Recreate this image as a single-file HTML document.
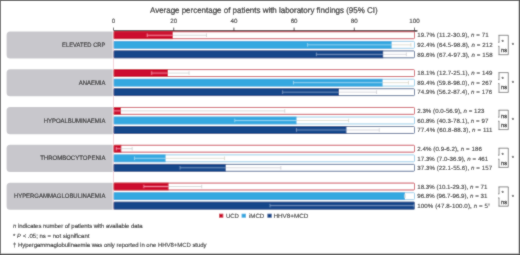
<!DOCTYPE html><html><head><meta charset="utf-8"><style>html,body{margin:0;padding:0;background:#fff;}svg{display:block;will-change:transform;}text{font-family:"Liberation Sans",sans-serif;text-rendering:geometricPrecision;stroke:#262626;stroke-width:0.1px;}</style></head><body>
<svg width="520" height="255" viewBox="0 0 520 255">
<defs><filter id="soft" x="0" y="0" width="1" height="1" filterUnits="objectBoundingBox"><feConvolveMatrix order="3" kernelMatrix="0.03 0.08 0.03 0.08 0.56 0.08 0.03 0.08 0.03" edgeMode="duplicate" preserveAlpha="false"/></filter></defs>
<g filter="url(#soft)">
<rect x="0" y="0" width="520" height="255" fill="#fff"/>
<text x="150.0" y="13" font-size="8.3" fill="#262626" textLength="227.6" lengthAdjust="spacingAndGlyphs" style="stroke-width:0.2px">Average percentage of patients with laboratory findings (95% CI)</text>
<line x1="113.5" y1="30.9" x2="417.4" y2="30.9" stroke="#4a3439" stroke-width="1.6"/>
<line x1="113.50" y1="27.6" x2="113.50" y2="30.5" stroke="#2a2a2a" stroke-width="0.8"/>
<text x="113.50" y="23.4" font-size="6.2" fill="#262626" text-anchor="middle">0</text>
<line x1="173.70" y1="27.6" x2="173.70" y2="30.5" stroke="#2a2a2a" stroke-width="0.8"/>
<text x="173.70" y="23.4" font-size="6.2" fill="#262626" text-anchor="middle">20</text>
<line x1="233.90" y1="27.6" x2="233.90" y2="30.5" stroke="#2a2a2a" stroke-width="0.8"/>
<text x="233.90" y="23.4" font-size="6.2" fill="#262626" text-anchor="middle">40</text>
<line x1="294.10" y1="27.6" x2="294.10" y2="30.5" stroke="#2a2a2a" stroke-width="0.8"/>
<text x="294.10" y="23.4" font-size="6.2" fill="#262626" text-anchor="middle">60</text>
<line x1="354.30" y1="27.6" x2="354.30" y2="30.5" stroke="#2a2a2a" stroke-width="0.8"/>
<text x="354.30" y="23.4" font-size="6.2" fill="#262626" text-anchor="middle">80</text>
<line x1="414.50" y1="27.6" x2="414.50" y2="30.5" stroke="#2a2a2a" stroke-width="0.8"/>
<text x="414.50" y="23.4" font-size="6.2" fill="#262626" text-anchor="middle">100</text>
<line x1="113.5" y1="30.5" x2="113.5" y2="210" stroke="#ecc0c8" stroke-width="0.7"/>
<path d="M112.6 31.40 H10.1 a3.5 3.5 0 0 0 -3.5 3.5 V55.00 a3.5 3.5 0 0 0 3.5 3.5 H112.6 Z" fill="#c8c7cc"/>
<text x="62.10" y="46.90" font-size="6.4" fill="#262626" textLength="43.3" lengthAdjust="spacingAndGlyphs" style="stroke-width:0.12px">ELEVATED CRP</text>
<rect x="114.00" y="31.80" width="300.50" height="6.90" fill="#fff" stroke="#c8404f" stroke-width="0.9" rx="0.9"/>
<rect x="113.80" y="31.40" width="59.00" height="7.70" fill="#cc0f2e"/>
<line x1="147.21" y1="35.25" x2="172.80" y2="35.25" stroke="#ff9cb6" stroke-width="0.75"/>
<line x1="172.80" y1="35.25" x2="206.51" y2="35.25" stroke="#c8c8c8" stroke-width="0.65"/>
<line x1="147.21" y1="33.45" x2="147.21" y2="37.05" stroke="#ff9cb6" stroke-width="0.7"/>
<line x1="206.51" y1="33.45" x2="206.51" y2="37.05" stroke="#c8c8c8" stroke-width="0.7"/>
<text x="417.2" y="37.45" font-size="6.15" fill="#262626" textLength="71.39">19.7% (11.2-30.9), <tspan font-style="italic">n</tspan> = 71</text>
<rect x="114.00" y="41.40" width="300.50" height="6.90" fill="#fff" stroke="#92c9e6" stroke-width="0.9" rx="0.9"/>
<rect x="113.80" y="41.00" width="277.82" height="7.70" fill="#35a8e0"/>
<line x1="307.64" y1="44.85" x2="391.62" y2="44.85" stroke="#a8dcf4" stroke-width="0.75"/>
<line x1="391.62" y1="44.85" x2="410.89" y2="44.85" stroke="#d0d0c0" stroke-width="0.65"/>
<line x1="307.64" y1="43.05" x2="307.64" y2="46.65" stroke="#a8dcf4" stroke-width="0.7"/>
<line x1="410.89" y1="43.05" x2="410.89" y2="46.65" stroke="#d0d0c0" stroke-width="0.7"/>
<text x="417.2" y="47.05" font-size="6.15" fill="#262626" textLength="75.45">92.4% (64.5-98.8), <tspan font-style="italic">n</tspan> = 212</text>
<rect x="114.00" y="50.90" width="300.50" height="6.90" fill="#fff" stroke="#4a6490" stroke-width="0.9" rx="0.9"/>
<rect x="113.80" y="50.50" width="269.40" height="7.70" fill="#14468a"/>
<line x1="316.37" y1="54.35" x2="383.20" y2="54.35" stroke="#8aa6cc" stroke-width="0.75"/>
<line x1="383.20" y1="54.35" x2="406.37" y2="54.35" stroke="#c8c8d0" stroke-width="0.65"/>
<line x1="316.37" y1="52.55" x2="316.37" y2="56.15" stroke="#8aa6cc" stroke-width="0.7"/>
<line x1="406.37" y1="52.55" x2="406.37" y2="56.15" stroke="#c8c8d0" stroke-width="0.7"/>
<text x="417.2" y="56.55" font-size="6.15" fill="#262626" textLength="75.45">89.6% (67.4-97.3), <tspan font-style="italic">n</tspan> = 158</text>
<path d="M498.5 35.30 H508.3 V54.70 H498.5" fill="none" stroke="#484848" stroke-width="0.65"/>
<path d="M499.0 35.30 V42.30 M498.0 42.30 H499.3" fill="none" stroke="#484848" stroke-width="0.6"/>
<path d="M499.0 46.30 V54.70 M498.0 46.30 H499.3" fill="none" stroke="#484848" stroke-width="0.6"/>
<text x="502.7" y="43.60" font-size="6" fill="#262626" text-anchor="middle">*</text>
<text x="501.0" y="51.90" font-size="5.7" fill="#262626" letter-spacing="0.15" style="stroke-width:0.3px">ns</text>
<text x="512.8" y="47.40" font-size="6" fill="#262626" text-anchor="middle">*</text>
<path d="M112.6 69.22 H10.1 a3.5 3.5 0 0 0 -3.5 3.5 V92.82 a3.5 3.5 0 0 0 3.5 3.5 H112.6 Z" fill="#c8c7cc"/>
<text x="78.80" y="84.72" font-size="6.4" fill="#262626" textLength="26.6" lengthAdjust="spacingAndGlyphs" style="stroke-width:0.12px">ANAEMIA</text>
<rect x="114.00" y="69.62" width="300.50" height="6.90" fill="#fff" stroke="#c8404f" stroke-width="0.9" rx="0.9"/>
<rect x="113.80" y="69.22" width="54.18" height="7.70" fill="#cc0f2e"/>
<line x1="151.73" y1="73.07" x2="167.98" y2="73.07" stroke="#ff9cb6" stroke-width="0.75"/>
<line x1="167.98" y1="73.07" x2="189.05" y2="73.07" stroke="#c8c8c8" stroke-width="0.65"/>
<line x1="151.73" y1="71.27" x2="151.73" y2="74.87" stroke="#ff9cb6" stroke-width="0.7"/>
<line x1="189.05" y1="71.27" x2="189.05" y2="74.87" stroke="#c8c8c8" stroke-width="0.7"/>
<text x="417.2" y="75.27" font-size="6.15" fill="#262626" textLength="75.15">18.1% (12.7-25.1), <tspan font-style="italic">n</tspan> = 149</text>
<rect x="114.00" y="79.22" width="300.50" height="6.90" fill="#fff" stroke="#92c9e6" stroke-width="0.9" rx="0.9"/>
<rect x="113.80" y="78.82" width="268.79" height="7.70" fill="#35a8e0"/>
<line x1="293.50" y1="82.67" x2="382.59" y2="82.67" stroke="#a8dcf4" stroke-width="0.75"/>
<line x1="382.59" y1="82.67" x2="408.48" y2="82.67" stroke="#d0d0c0" stroke-width="0.65"/>
<line x1="293.50" y1="80.87" x2="293.50" y2="84.47" stroke="#a8dcf4" stroke-width="0.7"/>
<line x1="408.48" y1="80.87" x2="408.48" y2="84.47" stroke="#d0d0c0" stroke-width="0.7"/>
<text x="417.2" y="84.87" font-size="6.15" fill="#262626" textLength="74.85">89.4% (59.8-98.0), <tspan font-style="italic">n</tspan> = 267</text>
<rect x="114.00" y="88.72" width="300.50" height="6.90" fill="#fff" stroke="#4a6490" stroke-width="0.9" rx="0.9"/>
<rect x="113.80" y="88.32" width="225.15" height="7.70" fill="#14468a"/>
<line x1="282.66" y1="92.17" x2="338.95" y2="92.17" stroke="#8aa6cc" stroke-width="0.75"/>
<line x1="338.95" y1="92.17" x2="376.57" y2="92.17" stroke="#c8c8d0" stroke-width="0.65"/>
<line x1="282.66" y1="90.37" x2="282.66" y2="93.97" stroke="#8aa6cc" stroke-width="0.7"/>
<line x1="376.57" y1="90.37" x2="376.57" y2="93.97" stroke="#c8c8d0" stroke-width="0.7"/>
<text x="417.2" y="94.37" font-size="6.15" fill="#262626" textLength="74.85">74.9% (56.2-87.4), <tspan font-style="italic">n</tspan> = 176</text>
<path d="M498.5 72.60 H508.3 V92.40 H498.5" fill="none" stroke="#484848" stroke-width="0.65"/>
<path d="M499.0 72.60 V79.60 M498.0 79.60 H499.3" fill="none" stroke="#484848" stroke-width="0.6"/>
<path d="M499.0 83.60 V92.40 M498.0 83.60 H499.3" fill="none" stroke="#484848" stroke-width="0.6"/>
<text x="502.7" y="80.90" font-size="6" fill="#262626" text-anchor="middle">*</text>
<text x="501.0" y="89.20" font-size="5.7" fill="#262626" letter-spacing="0.15" style="stroke-width:0.3px">ns</text>
<text x="512.8" y="84.70" font-size="6" fill="#262626" text-anchor="middle">*</text>
<path d="M112.6 107.04 H10.1 a3.5 3.5 0 0 0 -3.5 3.5 V130.64 a3.5 3.5 0 0 0 3.5 3.5 H112.6 Z" fill="#c8c7cc"/>
<text x="43.70" y="122.54" font-size="6.4" fill="#262626" textLength="61.7" lengthAdjust="spacingAndGlyphs" style="stroke-width:0.12px">HYPOALBUMINAEMIA</text>
<rect x="114.00" y="107.44" width="300.50" height="6.90" fill="#fff" stroke="#c8404f" stroke-width="0.9" rx="0.9"/>
<rect x="113.80" y="107.04" width="7.22" height="7.70" fill="#cc0f2e"/>
<line x1="113.50" y1="110.89" x2="120.42" y2="110.89" stroke="#ff9cb6" stroke-width="0.75"/>
<line x1="120.42" y1="110.89" x2="284.77" y2="110.89" stroke="#c8c8c8" stroke-width="0.65"/>
<line x1="113.50" y1="109.09" x2="113.50" y2="112.69" stroke="#ff9cb6" stroke-width="0.7"/>
<line x1="284.77" y1="109.09" x2="284.77" y2="112.69" stroke="#c8c8c8" stroke-width="0.7"/>
<text x="417.2" y="113.09" font-size="6.15" fill="#262626" textLength="67.22">2.3% (0.0-56.9), <tspan font-style="italic">n</tspan> = 123</text>
<rect x="114.00" y="117.04" width="300.50" height="6.90" fill="#fff" stroke="#92c9e6" stroke-width="0.9" rx="0.9"/>
<rect x="113.80" y="116.64" width="182.71" height="7.70" fill="#35a8e0"/>
<line x1="234.80" y1="120.49" x2="296.51" y2="120.49" stroke="#a8dcf4" stroke-width="0.75"/>
<line x1="296.51" y1="120.49" x2="348.58" y2="120.49" stroke="#d0d0c0" stroke-width="0.65"/>
<line x1="234.80" y1="118.69" x2="234.80" y2="122.29" stroke="#a8dcf4" stroke-width="0.7"/>
<line x1="348.58" y1="118.69" x2="348.58" y2="122.29" stroke="#d0d0c0" stroke-width="0.7"/>
<text x="417.2" y="122.69" font-size="6.15" fill="#262626" textLength="71.14">60.8% (40.3-78.1), <tspan font-style="italic">n</tspan> = 97</text>
<rect x="114.00" y="126.54" width="300.50" height="6.90" fill="#fff" stroke="#4a6490" stroke-width="0.9" rx="0.9"/>
<rect x="113.80" y="126.14" width="232.67" height="7.70" fill="#14468a"/>
<line x1="296.51" y1="129.99" x2="346.47" y2="129.99" stroke="#8aa6cc" stroke-width="0.75"/>
<line x1="346.47" y1="129.99" x2="379.28" y2="129.99" stroke="#c8c8d0" stroke-width="0.65"/>
<line x1="296.51" y1="128.19" x2="296.51" y2="131.79" stroke="#8aa6cc" stroke-width="0.7"/>
<line x1="379.28" y1="128.19" x2="379.28" y2="131.79" stroke="#c8c8d0" stroke-width="0.7"/>
<text x="417.2" y="132.19" font-size="6.15" fill="#262626" textLength="75.34">77.4% (60.8-88.3), <tspan font-style="italic">n</tspan> = 111</text>
<path d="M498.5 110.20 H508.3 V129.60 H498.5" fill="none" stroke="#484848" stroke-width="0.65"/>
<path d="M499.0 110.20 V117.20 M498.0 117.20 H499.3" fill="none" stroke="#484848" stroke-width="0.6"/>
<path d="M499.0 121.20 V129.60 M498.0 121.20 H499.3" fill="none" stroke="#484848" stroke-width="0.6"/>
<text x="501.0" y="117.70" font-size="5.7" fill="#262626" letter-spacing="0.15" style="stroke-width:0.3px">ns</text>
<text x="501.0" y="126.80" font-size="5.7" fill="#262626" letter-spacing="0.15" style="stroke-width:0.3px">ns</text>
<text x="512.8" y="122.30" font-size="6" fill="#262626" text-anchor="middle">*</text>
<path d="M112.6 144.86 H10.1 a3.5 3.5 0 0 0 -3.5 3.5 V168.46 a3.5 3.5 0 0 0 3.5 3.5 H112.6 Z" fill="#c8c7cc"/>
<text x="40.20" y="160.36" font-size="6.4" fill="#262626" textLength="65.2" lengthAdjust="spacingAndGlyphs" style="stroke-width:0.12px">THROMBOCYTOPENIA</text>
<rect x="114.00" y="145.26" width="300.50" height="6.90" fill="#fff" stroke="#c8404f" stroke-width="0.9" rx="0.9"/>
<rect x="113.80" y="144.86" width="7.52" height="7.70" fill="#cc0f2e"/>
<line x1="116.21" y1="148.71" x2="120.72" y2="148.71" stroke="#ff9cb6" stroke-width="0.75"/>
<line x1="120.72" y1="148.71" x2="132.16" y2="148.71" stroke="#c8c8c8" stroke-width="0.65"/>
<line x1="116.21" y1="146.91" x2="116.21" y2="150.51" stroke="#ff9cb6" stroke-width="0.7"/>
<line x1="132.16" y1="146.91" x2="132.16" y2="150.51" stroke="#c8c8c8" stroke-width="0.7"/>
<text x="417.2" y="150.91" font-size="6.15" fill="#262626" textLength="64.6">2.4% (0.9-6.2), <tspan font-style="italic">n</tspan> = 186</text>
<rect x="114.00" y="154.86" width="300.50" height="6.90" fill="#fff" stroke="#92c9e6" stroke-width="0.9" rx="0.9"/>
<rect x="113.80" y="154.46" width="51.77" height="7.70" fill="#35a8e0"/>
<line x1="134.57" y1="158.31" x2="165.57" y2="158.31" stroke="#a8dcf4" stroke-width="0.75"/>
<line x1="165.57" y1="158.31" x2="224.57" y2="158.31" stroke="#d0d0c0" stroke-width="0.65"/>
<line x1="134.57" y1="156.51" x2="134.57" y2="160.11" stroke="#a8dcf4" stroke-width="0.7"/>
<line x1="224.57" y1="156.51" x2="224.57" y2="160.11" stroke="#d0d0c0" stroke-width="0.7"/>
<text x="417.2" y="160.51" font-size="6.15" fill="#262626" textLength="71.03">17.3% (7.0-36.9), <tspan font-style="italic">n</tspan> = 461</text>
<rect x="114.00" y="164.36" width="300.50" height="6.90" fill="#fff" stroke="#4a6490" stroke-width="0.9" rx="0.9"/>
<rect x="113.80" y="163.96" width="111.97" height="7.70" fill="#14468a"/>
<line x1="180.02" y1="167.81" x2="225.77" y2="167.81" stroke="#8aa6cc" stroke-width="0.75"/>
<line x1="225.77" y1="167.81" x2="280.86" y2="167.81" stroke="#c8c8d0" stroke-width="0.65"/>
<line x1="180.02" y1="166.01" x2="180.02" y2="169.61" stroke="#8aa6cc" stroke-width="0.7"/>
<line x1="280.86" y1="166.01" x2="280.86" y2="169.61" stroke="#c8c8d0" stroke-width="0.7"/>
<text x="417.2" y="170.01" font-size="6.15" fill="#262626" textLength="74.85">37.3% (22.1-55.6), <tspan font-style="italic">n</tspan> = 157</text>
<path d="M498.5 148.20 H508.3 V167.40 H498.5" fill="none" stroke="#484848" stroke-width="0.65"/>
<path d="M499.0 148.20 V155.20 M498.0 155.20 H499.3" fill="none" stroke="#484848" stroke-width="0.6"/>
<path d="M499.0 159.20 V167.40 M498.0 159.20 H499.3" fill="none" stroke="#484848" stroke-width="0.6"/>
<text x="502.7" y="156.50" font-size="6" fill="#262626" text-anchor="middle">*</text>
<text x="501.0" y="164.80" font-size="5.7" fill="#262626" letter-spacing="0.15" style="stroke-width:0.3px">ns</text>
<text x="512.8" y="160.30" font-size="6" fill="#262626" text-anchor="middle">*</text>
<path d="M112.6 182.68 H10.1 a3.5 3.5 0 0 0 -3.5 3.5 V206.28 a3.5 3.5 0 0 0 3.5 3.5 H112.6 Z" fill="#c8c7cc"/>
<text x="13.90" y="198.18" font-size="6.4" fill="#262626" textLength="91.5" lengthAdjust="spacingAndGlyphs" style="stroke-width:0.12px">HYPERGAMMAGLOBULINAEMIA</text>
<rect x="114.00" y="183.08" width="300.50" height="6.90" fill="#fff" stroke="#c8404f" stroke-width="0.9" rx="0.9"/>
<rect x="113.80" y="182.68" width="54.78" height="7.70" fill="#cc0f2e"/>
<line x1="143.90" y1="186.53" x2="168.58" y2="186.53" stroke="#ff9cb6" stroke-width="0.75"/>
<line x1="168.58" y1="186.53" x2="201.69" y2="186.53" stroke="#c8c8c8" stroke-width="0.65"/>
<line x1="143.90" y1="184.73" x2="143.90" y2="188.33" stroke="#ff9cb6" stroke-width="0.7"/>
<line x1="201.69" y1="184.73" x2="201.69" y2="188.33" stroke="#c8c8c8" stroke-width="0.7"/>
<text x="417.2" y="188.73" font-size="6.15" fill="#262626" textLength="70.14">18.3% (10.1-29.3), <tspan font-style="italic">n</tspan> = 71</text>
<rect x="114.00" y="192.68" width="300.50" height="6.90" fill="#fff" stroke="#92c9e6" stroke-width="0.9" rx="0.9"/>
<rect x="113.80" y="192.28" width="291.07" height="7.70" fill="#35a8e0"/>
<line x1="404.57" y1="196.13" x2="404.87" y2="196.13" stroke="#a8dcf4" stroke-width="0.75"/>
<line x1="404.87" y1="196.13" x2="405.17" y2="196.13" stroke="#d0d0c0" stroke-width="0.65"/>
<line x1="404.57" y1="194.33" x2="404.57" y2="197.93" stroke="#a8dcf4" stroke-width="0.7"/>
<line x1="405.17" y1="194.33" x2="405.17" y2="197.93" stroke="#d0d0c0" stroke-width="0.7"/>
<text x="417.2" y="198.33" font-size="6.15" fill="#262626" textLength="70.14">96.8% (96.7-96.9), <tspan font-style="italic">n</tspan> = 31</text>
<rect x="114.00" y="202.18" width="300.50" height="6.90" fill="#fff" stroke="#4a6490" stroke-width="0.9" rx="0.9"/>
<rect x="113.80" y="201.78" width="300.70" height="7.70" fill="#14468a"/>
<line x1="270.02" y1="205.63" x2="414.50" y2="205.63" stroke="#8aa6cc" stroke-width="0.75"/>
<line x1="270.02" y1="203.83" x2="270.02" y2="207.43" stroke="#8aa6cc" stroke-width="0.7"/>
<line x1="413.90" y1="203.83" x2="413.90" y2="207.43" stroke="#8aa6cc" stroke-width="0.7"/>
<text x="417.2" y="207.83" font-size="6.15" fill="#262626" textLength="72.92">100% (47.8-100.0), <tspan font-style="italic">n</tspan> = 5<tspan font-size="3.6" dy="-2">†</tspan></text>
<path d="M498.5 186.90 H508.3 V206.20 H498.5" fill="none" stroke="#484848" stroke-width="0.65"/>
<path d="M499.0 186.90 V193.90 M498.0 193.90 H499.3" fill="none" stroke="#484848" stroke-width="0.6"/>
<path d="M499.0 197.90 V206.20 M498.0 197.90 H499.3" fill="none" stroke="#484848" stroke-width="0.6"/>
<text x="502.7" y="195.20" font-size="6" fill="#262626" text-anchor="middle">*</text>
<text x="501.0" y="203.50" font-size="5.7" fill="#262626" letter-spacing="0.15" style="stroke-width:0.3px">ns</text>
<text x="512.8" y="199.00" font-size="6" fill="#262626" text-anchor="middle">*</text>
<rect x="219.0" y="213.7" width="4.3" height="4.0" fill="#cc0f2e"/>
<text x="225.90" y="217.9" font-size="6.2" fill="#262626" textLength="13.0" lengthAdjust="spacingAndGlyphs">UCD</text>
<rect x="241.6" y="213.7" width="4.3" height="4.0" fill="#35a8e0"/>
<text x="248.90" y="217.9" font-size="6.2" fill="#262626" textLength="15.4" lengthAdjust="spacingAndGlyphs">iMCD</text>
<rect x="267.4" y="213.7" width="4.3" height="4.0" fill="#14468a"/>
<text x="273.40" y="217.9" font-size="6.2" fill="#262626" textLength="35.0" lengthAdjust="spacingAndGlyphs">HHV8+MCD</text>
<text x="13.0" y="227.8" font-size="6" fill="#262626" textLength="129.6"><tspan font-style="italic">n</tspan> indicates number of patients with available data</text>
<text x="13.0" y="237.5" font-size="6" fill="#262626" textLength="76.4">* <tspan font-style="italic">P</tspan> &lt; .05; ns = not significant</text>
<text x="13.0" y="247.0" font-size="6" fill="#262626" textLength="193.6">† Hypergammaglobulinaemia was only reported in one HHV8+MCD study</text>
<rect x="0" y="0" width="520" height="1" fill="#505050"/>
<rect x="0" y="0" width="1" height="255" fill="#666"/>
<rect x="519" y="0" width="1" height="255" fill="#4a4a4a"/>
<rect x="518.6" y="0" width="0.4" height="255" fill="#888"/>
<rect x="0" y="254" width="520" height="1" fill="#4a4a4a"/>
<rect x="0" y="253.4" width="520" height="0.6" fill="#999"/>
</g></svg></body></html>
